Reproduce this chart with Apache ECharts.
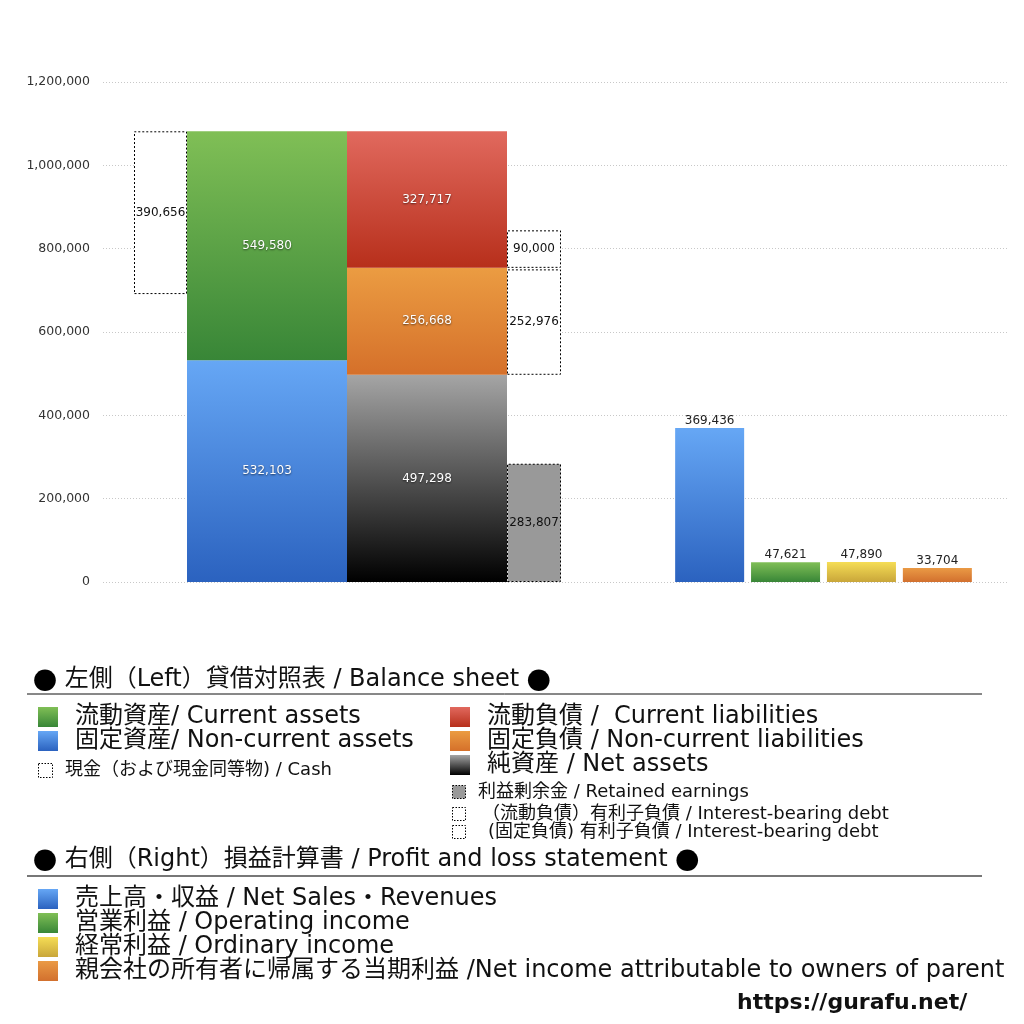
<!DOCTYPE html>
<html>
<head>
<meta charset="utf-8">
<script src="https://cdn.jsdelivr.net/npm/echarts@6/dist/echarts.min.js"></script>
<style>html,body{margin:0;padding:0;background:#fff}#c{width:1024px;height:1024px}</style>
</head>
<body>
<div id="c"></div>
<script>
// ---- data ----
const yMin = 0, yMax = 1200000, yInterval = 200000;
const assetNames = ['固定資産 / Non-current assets', '流動資産 / Current assets'];
const assetValues = [532103, 549580];
const liabNames = ['純資産 / Net assets', '固定負債 / Non-current liabilities', '流動負債 / Current liabilities'];
const liabValues = [497298, 256668, 327717];
const cashValue = 390656;
const retainedEarnings = 283807;
const debtNames = ['(固定負債) 有利子負債', '(流動負債) 有利子負債'];
const debtValues = [252976, 90000];
const plNames = ['売上高・収益', '営業利益', '経常利益', '親会社の所有者に帰属する当期利益'];
const plValues = [369436, 47621, 47890, 33704];

// ---- derived ----
const totalAssets = assetValues[0] + assetValues[1];
const cashBase = totalAssets - cashValue;
const debtBase1 = liabValues[0] - retainedEarnings;
const debtBase2 = liabValues[1] - debtValues[0];

const FONT = "'DejaVu Sans', 'Noto Sans CJK JP', sans-serif";
const CJK = "'Noto Sans CJK JP', sans-serif";
const grad = (a, b) => new echarts.graphic.LinearGradient(0, 0, 0, 1, [{offset: 0, color: a}, {offset: 1, color: b}]);
const C = {
  blue: ['#66a7f5', '#2b62bf'],
  green: ['#80bf56', '#388637'],
  red: ['#e1695e', '#b72f1b'],
  orange: ['#eb9c42', '#d5702a'],
  black: ['#a5a5a5', '#000000'],
  yellow: ['#f5dd55', '#c9a63a'],
  orange2: ['#ea9a45', '#d2702e']
};
const fmt = p => Number(p.value).toLocaleString('en-US');
const whiteLabel = {show: true, position: 'inside', formatter: fmt, color: '#fff', fontSize: 12, fontFamily: FONT,
  textShadowColor: 'rgba(0,0,0,0.6)', textShadowBlur: 2, textShadowOffsetY: 1};
const blackLabel = {show: true, position: 'inside', formatter: fmt, color: '#111', fontSize: 12, fontFamily: FONT};
const dashed = {color: '#fff', borderColor: '#000', borderWidth: 1, borderType: [2, 2]};
const hidden = {color: 'transparent'};

function bs(name, stack, width, value, itemStyle, label) {
  return {name, type: 'bar', xAxisIndex: 1, yAxisIndex: 1, stack, barWidth: width, barGap: 0,
    data: [value], itemStyle, label: label || {show: false}, silent: true, emphasis: {disabled: true}};
}
const series = [
  bs('cashBase', 'cash', 53, cashBase, hidden),
  bs('現金 / Cash', 'cash', 53, cashValue, dashed, blackLabel),
  bs(assetNames[0], 'assets', 160, assetValues[0], {color: grad(...C.blue)}, whiteLabel),
  bs(assetNames[1], 'assets', 160, assetValues[1], {color: grad(...C.green)}, whiteLabel),
  bs(liabNames[0], 'liab', 160, liabValues[0], {color: grad(...C.black)}, whiteLabel),
  bs(liabNames[1], 'liab', 160, liabValues[1], {color: grad(...C.orange)}, whiteLabel),
  bs(liabNames[2], 'liab', 160, liabValues[2], {color: grad(...C.red)}, whiteLabel),
  bs('利益剰余金 / Retained earnings', 'debt', 54, retainedEarnings, {color: '#999', borderColor: '#000', borderWidth: 1, borderType: [2, 2]}, blackLabel),
  bs('debtBase1', 'debt', 54, debtBase1, hidden),
  bs(debtNames[0], 'debt', 54, debtValues[0], dashed, blackLabel),
  bs('debtBase2', 'debt', 54, debtBase2, hidden),
  bs(debtNames[1], 'debt', 54, debtValues[1], dashed, blackLabel)
];
const plColors = [C.blue, C.green, C.yellow, C.orange2];
plValues.forEach((v, i) => {
  series.push({name: plNames[i], type: 'bar', xAxisIndex: 2, yAxisIndex: 2, barWidth: 69, barGap: '10%',
    data: [v], itemStyle: {color: grad(...plColors[i])}, silent: true,
    label: {show: true, position: 'top', distance: 1, formatter: fmt, color: '#222', fontSize: 12, fontFamily: FONT}});
});

const gridTop = 82, gridH = 500;
const hiddenY = i => ({type: 'value', gridIndex: i, min: yMin, max: yMax, interval: yInterval, show: false});
const hiddenX = (i, cats) => ({type: 'category', gridIndex: i, data: cats, show: false});

// ---- legend graphics ----
const g = [];
function txt(x, y, text, size, extra) {
  g.push({type: 'text', x, y, silent: true, style: Object.assign({text, fill: '#111', font: `${size}px ${FONT}`, textVerticalAlign: 'middle'}, extra || {})});
}
function sq(x, y, s, fill, dash) {
  g.push({type: 'rect', silent: true, shape: {x, y, width: s, height: s},
    style: dash ? {fill: fill || '#fff', stroke: '#000', lineWidth: 1, lineDash: [1.5, 1.5]} : {fill}});
}
const bulletRich = {rich: {b: {font: `24px ${CJK}`, fill: '#000'}}};
txt(33, 680, '{b|●} 左側（Left）貸借対照表 / Balance sheet {b|●}', 24, bulletRich);
g.push({type: 'line', silent: true, shape: {x1: 27, y1: 694, x2: 982, y2: 694}, style: {stroke: '#111', lineWidth: 1}});
sq(38, 707, 20, grad(...C.green)); txt(75, 717, '流動資産/ Current assets', 24);
sq(38, 731, 20, grad(...C.blue)); txt(75, 741, '固定資産/ Non-current assets', 24);
sq(38.5, 763.5, 14, null, true); txt(65, 770, '現金（および現金同等物) / Cash', 18);
sq(450, 707, 20, grad(...C.red)); txt(487, 717, '流動負債 /  Current liabilities', 24);
sq(450, 731, 20, grad(...C.orange)); txt(487, 741, '固定負債 / Non-current liabilities', 24);
sq(450, 755, 20, grad(...C.black)); txt(487, 765, '純資産 / Net assets', 24);
sq(452.5, 785.5, 13, '#999', true); txt(478, 792, '利益剰余金 / Retained earnings', 18);
sq(452.5, 807.5, 13, null, true); txt(482, 814, '（流動負債）有利子負債 / Interest-bearing debt', 18);
sq(452.5, 825.5, 13, null, true); txt(488, 832, '(固定負債) 有利子負債 / Interest-bearing debt', 18);
txt(33, 860, '{b|●} 右側（Right）損益計算書 / Profit and loss statement {b|●}', 24, bulletRich);
g.push({type: 'line', silent: true, shape: {x1: 27, y1: 876, x2: 982, y2: 876}, style: {stroke: '#777', lineWidth: 2}});
const plLegend = ['売上高・収益 / Net Sales・Revenues', '営業利益 / Operating income', '経常利益 / Ordinary income', '親会社の所有者に帰属する当期利益 /Net income attributable to owners of parent'];
plLegend.forEach((t, i) => { sq(38, 889 + i * 24, 20, grad(...plColors[i])); txt(75, 899 + i * 24, t, 24); });
txt(737, 1003, 'https://gurafu.net/', 22, {font: `bold 22px ${FONT}`});

const chart = echarts.init(document.getElementById('c'), null, {renderer: 'canvas'});
chart.setOption({
  animation: false,
  backgroundColor: '#fff',
  grid: [
    {left: 103, right: 17, top: gridTop, height: gridH},
    {left: 103, width: 489, top: gridTop, height: gridH},
    {left: 647, width: 353, top: gridTop, height: gridH}
  ],
  xAxis: [hiddenX(0, ['']), hiddenX(1, ['貸借対照表']), hiddenX(2, ['損益計算書'])],
  yAxis: [
    {type: 'value', gridIndex: 0, min: yMin, max: yMax, interval: yInterval,
      axisLine: {show: false}, axisTick: {show: false},
      axisLabel: {margin: 13, color: '#333', fontSize: 12.5, fontFamily: FONT, formatter: v => v.toLocaleString('en-US')},
      splitLine: {lineStyle: {color: '#c8c8c8', type: [1, 2], width: 1}}},
    hiddenY(1), hiddenY(2)
  ],
  series,
  graphic: g
});
</script>
</body>
</html>
